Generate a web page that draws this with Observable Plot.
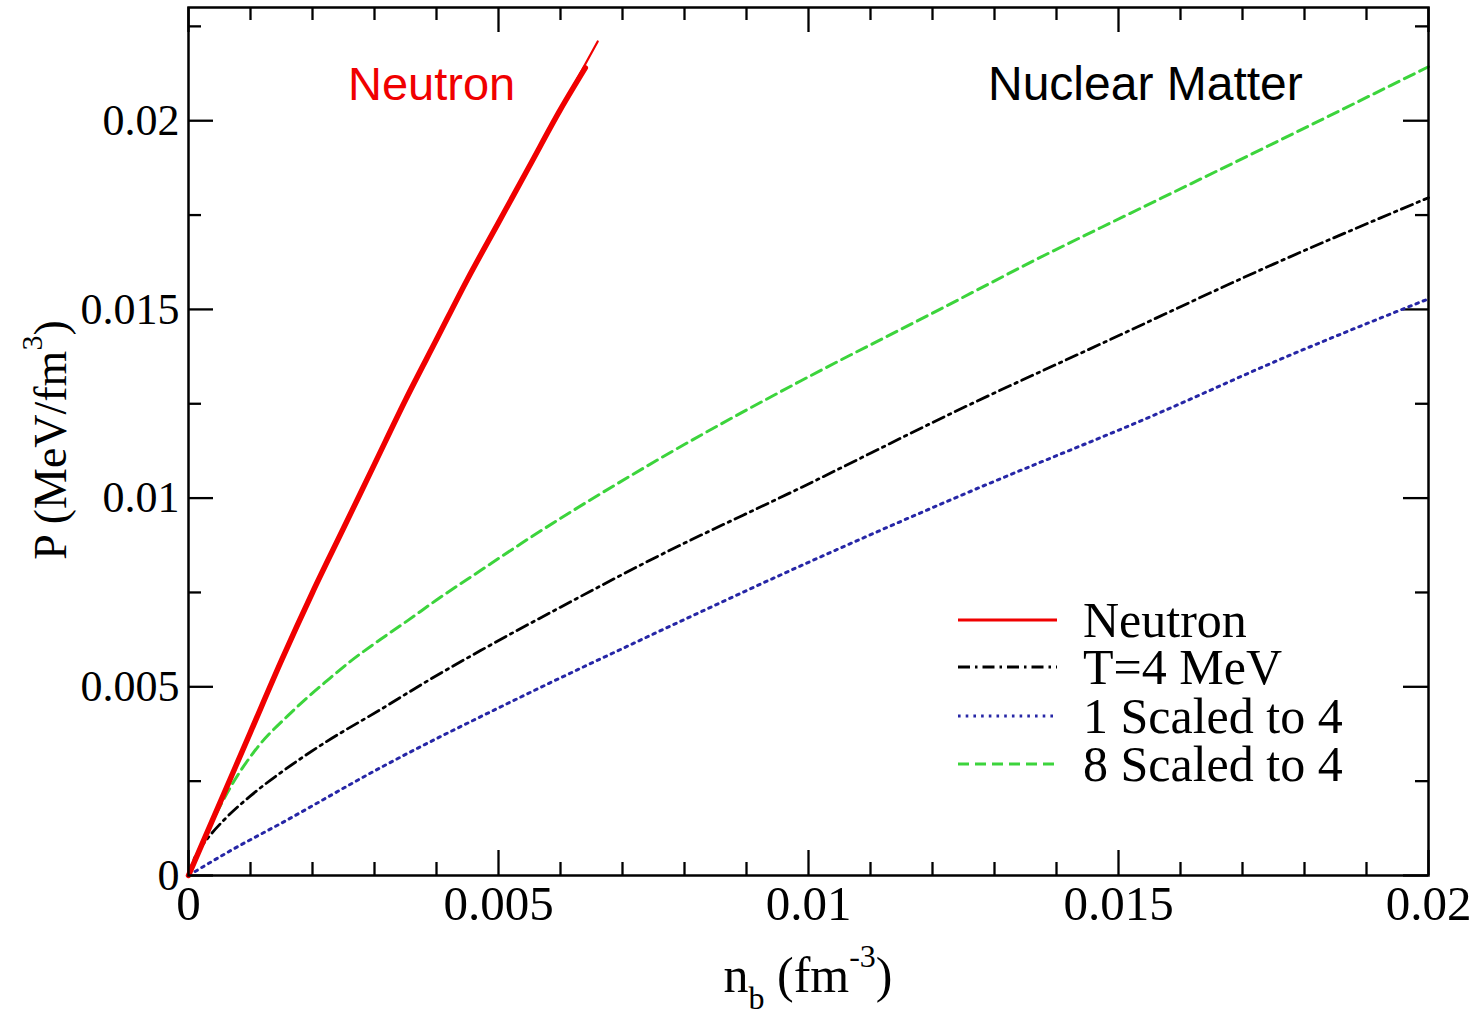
<!DOCTYPE html>
<html><head><meta charset="utf-8">
<script src="https://cdn.jsdelivr.net/npm/d3@7"></script>
<script src="https://cdn.jsdelivr.net/npm/@observablehq/plot@0.6"></script>
<style>body{margin:0;background:#fff}</style>
</head><body><div id="chart"></div>
<script>
// ---- tick values ----
const xMajorTicks = [0, 0.005, 0.01, 0.015, 0.02];
const xMinorTicks = [0.001, 0.002, 0.003, 0.004, 0.006, 0.007, 0.008, 0.009, 0.011, 0.012, 0.013, 0.014, 0.016, 0.017, 0.018, 0.019];
const yMajorTicks = [0, 0.005, 0.01, 0.015, 0.02];
const yMinorTicks = [0.0025, 0.0075, 0.0125, 0.0175, 0.0225];

// ---- series (n_b in fm^-3, P in MeV/fm^3) ----
const neutronN = [0, 0.0005, 0.001, 0.0015, 0.002, 0.0025, 0.003, 0.0035, 0.004, 0.0045, 0.005, 0.0055, 0.006, 0.0066];
const neutronP = [0, 0.0019, 0.0038, 0.0057, 0.0075, 0.0092, 0.0109, 0.0126, 0.0142, 0.0158, 0.0173, 0.0188, 0.0203, 0.0221];
const neutronBandN = [0, 0.0005, 0.001, 0.0015, 0.002, 0.0025, 0.003, 0.0035, 0.004, 0.0045, 0.005, 0.0055, 0.006, 0.0064];
const neutronBandP = [0, 0.0019, 0.0038, 0.0057, 0.0075, 0.0092, 0.0109, 0.0126, 0.0142, 0.0158, 0.0173, 0.0188, 0.0203, 0.0214];

const t4N = [0, 0.0001, 0.00019, 0.00035, 0.00056, 0.001, 0.0015, 0.0022, 0.0031, 0.0039, 0.00471, 0.006, 0.0075, 0.00988, 0.0125, 0.01472, 0.0175, 0.02];
const t4P = [0, 0.00047, 0.00072, 0.00107, 0.00145, 0.00211, 0.00274, 0.00352, 0.0044, 0.0052, 0.00596, 0.00711, 0.0084, 0.01028, 0.0124, 0.01409, 0.0162, 0.01796];

const s1N = [0, 0.00068, 0.00149, 0.0031, 0.00531, 0.0075, 0.00988, 0.0125, 0.01566, 0.0175, 0.02];
const s1P = [0, 0.00066, 0.00138, 0.00286, 0.00469, 0.0064, 0.00821, 0.0101, 0.01226, 0.0136, 0.01528];

const s8N = [0, 0.0002, 0.00036, 0.00068, 0.00111, 0.0016, 0.0019, 0.00224, 0.0026, 0.0031, 0.00354, 0.004, 0.00471, 0.00536, 0.0075, 0.00988, 0.012, 0.01396, 0.01472, 0.0175, 0.02];
const s8P = [0, 0.0008, 0.00135, 0.00235, 0.00339, 0.00423, 0.00469, 0.00517, 0.00566, 0.00626, 0.00676, 0.0073, 0.00808, 0.00879, 0.01095, 0.01311, 0.0149, 0.01656, 0.01717, 0.0194, 0.02143];

const legendLabels = ["Neutron", "T=4 MeV", "1 Scaled to 4", "8 Scaled to 4"];

// ---- styles ----
const serif = "'Liberation Serif', 'Times New Roman', Times, serif";
const sans = "'Liberation Sans', Arial, Helvetica, sans-serif";
const RED = "#f00000", BLACK = "#000000", BLUE = "#2626a6", GREEN = "#3cd43c";
const styles = [
  {stroke: RED, strokeWidth: 3, dash: null},
  {stroke: BLACK, strokeWidth: 2.8, dash: "12,5,2.5,5"},
  {stroke: BLUE, strokeWidth: 3, dash: "2.6,5.1"},
  {stroke: GREEN, strokeWidth: 3, dash: "11,6"}
];

const W = 1479, H = 1016, mL = 188, mR = 51, mT = 7, mB = 141;
const innerW = W - mL - mR, innerH = H - mT - mB;
const rows = (ns, ps) => ns.map((n, i) => ({n, p: ps[i]}));
const majorLen = 25, minorLen = 13, tickW = 2.3;

const plot = Plot.plot({
  width: W, height: H,
  marginLeft: mL, marginRight: mR, marginTop: mT, marginBottom: mB,
  style: {fontFamily: serif, background: "white", color: "black", overflow: "visible"},
  x: {domain: [0, 0.02]},
  y: {domain: [0, 0.023]},
  marks: [
    Plot.axisX({ticks: xMajorTicks, tickSize: 0, tickPadding: 10, fontSize: 49, tickFormat: d => String(d), label: null}),
    Plot.axisY({ticks: yMajorTicks, tickSize: 0, tickPadding: 9, fontSize: 44, tickFormat: d => String(d), label: null}),
    // inward ticks on all four sides
    Plot.tickX(xMajorTicks, {x: d => d, insetTop: innerH - majorLen, stroke: "black", strokeWidth: tickW}),
    Plot.tickX(xMajorTicks, {x: d => d, insetBottom: innerH - majorLen, stroke: "black", strokeWidth: tickW}),
    Plot.tickX(xMinorTicks, {x: d => d, insetTop: innerH - minorLen, stroke: "black", strokeWidth: tickW}),
    Plot.tickX(xMinorTicks, {x: d => d, insetBottom: innerH - minorLen, stroke: "black", strokeWidth: tickW}),
    Plot.tickY(yMajorTicks, {y: d => d, insetRight: innerW - majorLen, stroke: "black", strokeWidth: tickW}),
    Plot.tickY(yMajorTicks, {y: d => d, insetLeft: innerW - majorLen, stroke: "black", strokeWidth: tickW}),
    Plot.tickY(yMinorTicks, {y: d => d, insetRight: innerW - minorLen, stroke: "black", strokeWidth: tickW}),
    Plot.tickY(yMinorTicks, {y: d => d, insetLeft: innerW - minorLen, stroke: "black", strokeWidth: tickW}),
    // curves
    Plot.line(rows(s1N, s1P), {x: "n", y: "p", stroke: BLUE, strokeWidth: styles[2].strokeWidth, strokeDasharray: styles[2].dash, curve: "monotone-x"}),
    Plot.line(rows(t4N, t4P), {x: "n", y: "p", stroke: BLACK, strokeWidth: styles[1].strokeWidth, strokeDasharray: styles[1].dash, curve: "monotone-x"}),
    Plot.line(rows(s8N, s8P), {x: "n", y: "p", stroke: GREEN, strokeWidth: styles[3].strokeWidth, strokeDasharray: styles[3].dash, curve: "monotone-x"}),
    Plot.line(rows(neutronBandN, neutronBandP), {x: "n", y: "p", stroke: RED, strokeWidth: 5.5, curve: "monotone-x"}),
    Plot.line(rows(neutronN, neutronP), {x: "n", y: "p", stroke: RED, strokeWidth: 2.2, curve: "monotone-x"}),
    Plot.frame({stroke: "black", strokeWidth: 2.5})
  ]
});

document.getElementById("chart").append(plot);

// ---- annotations, axis titles and legend ----
const svg = d3.select(plot);
const g = svg.append("g").attr("text-anchor", "start");

g.append("text").attr("x", 348).attr("y", 100).attr("text-anchor", "start").attr("font-family", sans).attr("font-size", 47)
  .attr("fill", RED).text("Neutron");
g.append("text").attr("x", 988).attr("y", 100).attr("text-anchor", "start").attr("font-family", sans).attr("font-size", 48)
  .attr("fill", "black").text("Nuclear Matter");

// x title: n_b (fm^-3)
const xt = g.append("text").attr("x", 808).attr("y", 992).attr("text-anchor", "middle")
  .attr("font-family", serif).attr("font-size", 50).attr("fill", "black");
xt.append("tspan").text("n");
xt.append("tspan").attr("font-size", 32).attr("dy", 17).text("b");
xt.append("tspan").attr("dy", -17).text(" (fm");
xt.append("tspan").attr("font-size", 32).attr("dy", -25).text("-3");
xt.append("tspan").attr("dy", 25).text(")");

// y title: P (MeV/fm^3)
const yt = g.append("text").attr("transform", "translate(66,440) rotate(-90)").attr("text-anchor", "middle")
  .attr("font-family", serif).attr("font-size", 46).attr("fill", "black");
yt.append("tspan").text("P (MeV/fm");
yt.append("tspan").attr("font-size", 30).attr("dy", -24).text("3");
yt.append("tspan").attr("dy", 24).text(")");

// legend
const legY = [620, 667, 716, 764];
legendLabels.forEach((lab, i) => {
  const s = styles[i];
  g.append("line").attr("x1", 958).attr("x2", 1057).attr("y1", legY[i]).attr("y2", legY[i])
    .attr("stroke", s.stroke).attr("stroke-width", s.strokeWidth)
    .attr("stroke-dasharray", s.dash);
  g.append("text").attr("x", 1083).attr("y", legY[i] + 17).attr("text-anchor", "start").attr("font-family", serif)
    .attr("font-size", 50).attr("fill", "black").text(lab);
});
</script>
</body></html>
